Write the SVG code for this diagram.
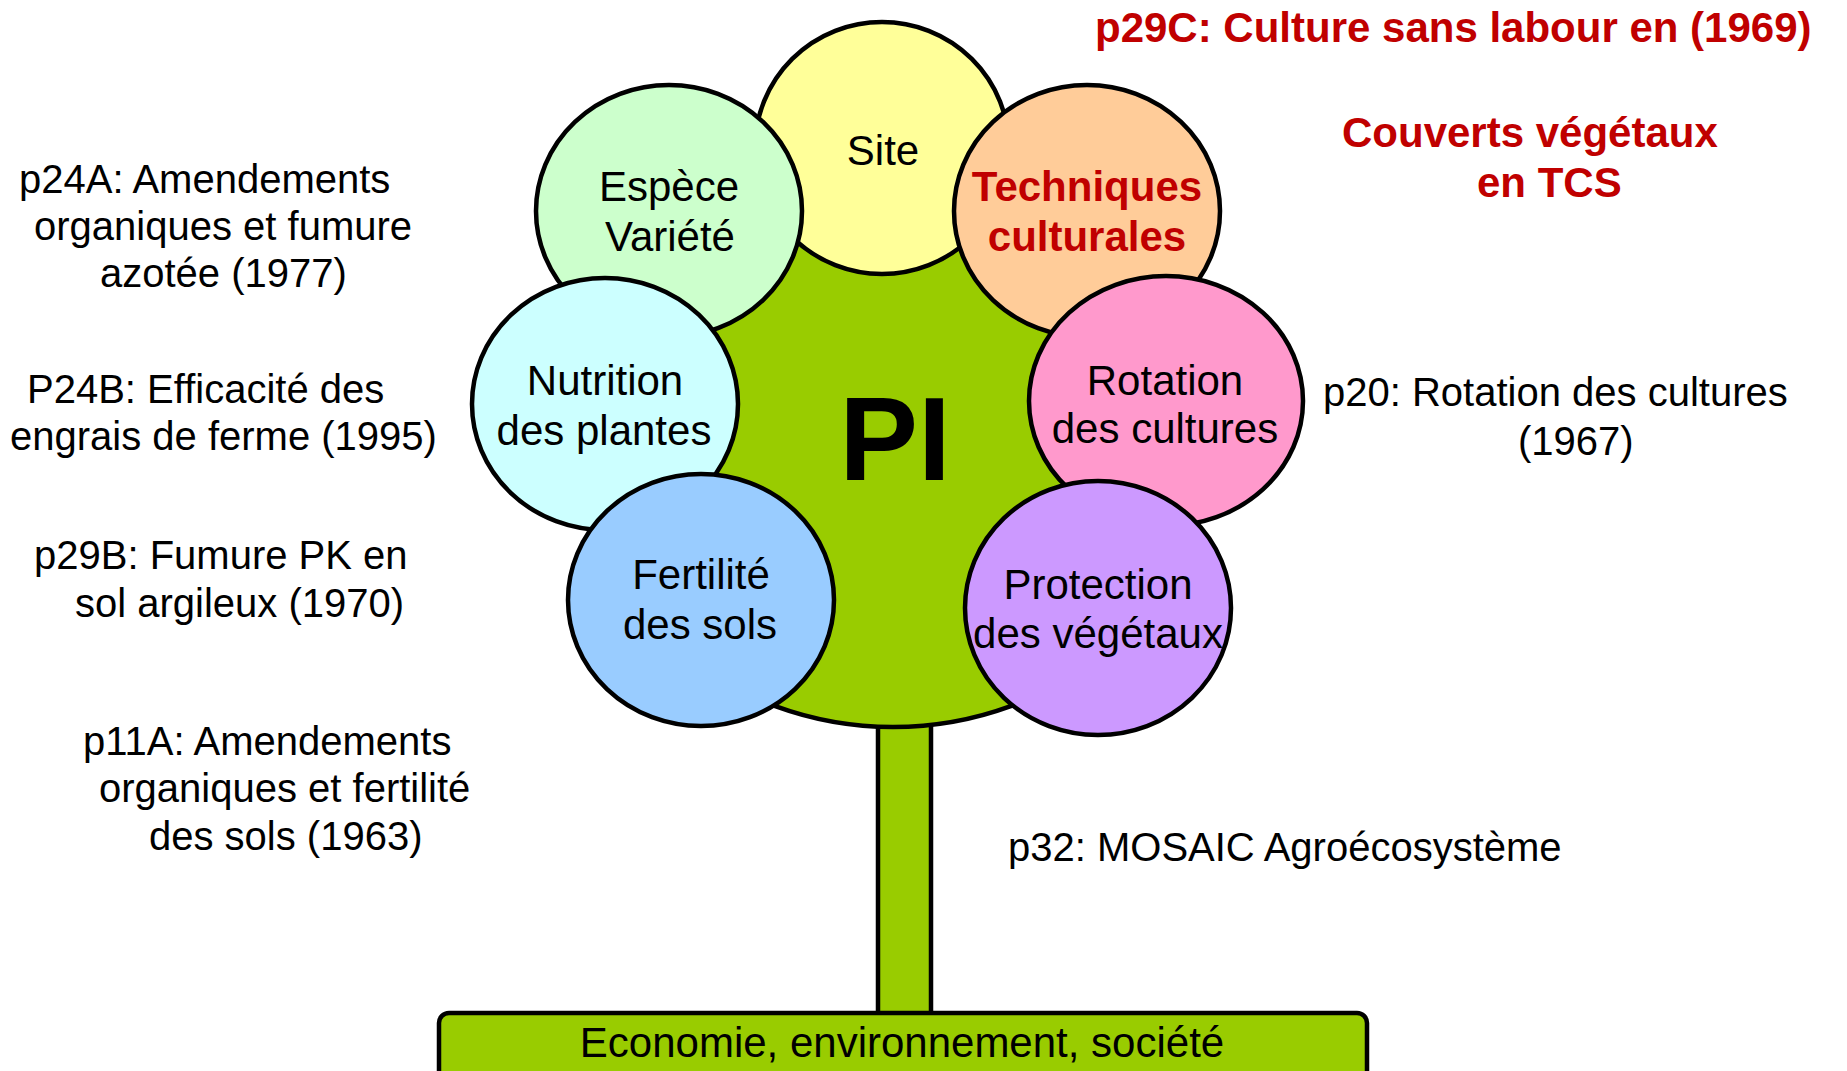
<svg xmlns="http://www.w3.org/2000/svg" width="1847" height="1071" viewBox="0 0 1847 1071">
<style>
.ol{stroke:#000;stroke-width:4.5}
.t{font-family:"Liberation Sans",Arial,sans-serif;font-size:42px;fill:#000}
.c{text-anchor:middle}
.s{font-family:"Liberation Sans",Arial,sans-serif;font-size:40px;fill:#000}
.r{font-family:"Liberation Sans",Arial,sans-serif;font-size:42px;font-weight:bold;fill:#C00000}
</style>
<rect width="1847" height="1071" fill="#fff"/>
<g id="connectors">
<rect id="stem" x="878" y="690" width="53" height="330" fill="#99CC00" class="ol"/>
</g>
<g id="base">
<rect x="439" y="1013" width="928" height="80" rx="10" fill="#99CC00" class="ol"/>
<text class="t c" x="902" y="1057">Economie, environnement, société</text>
</g>
<g id="pi">
<ellipse cx="893" cy="430" rx="320" ry="297" fill="#99CC00" class="ol"/>
</g>
<g id="site">
<ellipse cx="882" cy="148" rx="127" ry="126" fill="#FFFF99" class="ol"/>
<text class="t c" x="883" y="165">Site</text>
</g>
<g id="espece">
<ellipse cx="669" cy="211" rx="133" ry="126" fill="#CCFFCC" class="ol"/>
<text class="t c" x="669" y="201">Espèce</text>
<text class="t c" x="670" y="251">Variété</text>
</g>
<g id="techniques">
<ellipse cx="1087" cy="211" rx="133" ry="126" fill="#FFCC99" class="ol"/>
<text class="r c" x="1087" y="201">Techniques</text>
<text class="r c" x="1087" y="251">culturales</text>
</g>
<g id="nutrition">
<ellipse cx="605" cy="404" rx="133" ry="126" fill="#CCFFFF" class="ol"/>
<text class="t c" x="605" y="395">Nutrition</text>
<text class="t c" x="604" y="445">des plantes</text>
</g>
<g id="rotation">
<ellipse cx="1166" cy="401" rx="137" ry="125" fill="#FF99CC" class="ol"/>
<text class="t c" x="1165" y="395">Rotation</text>
<text class="t c" x="1165" y="443">des cultures</text>
</g>
<g id="fertilite">
<ellipse cx="701" cy="600" rx="133" ry="126" fill="#99CCFF" class="ol"/>
<text class="t c" x="701" y="589">Fertilité</text>
<text class="t c" x="700" y="639">des sols</text>
</g>
<g id="protection">
<ellipse cx="1098" cy="608" rx="133" ry="127" fill="#CC99FF" class="ol"/>
<text class="t c" x="1098" y="599">Protection</text>
<text class="t c" x="1098" y="648">des végétaux</text>
</g>
<g id="pi-label">
<text x="895" y="480" text-anchor="middle" font-family="Liberation Sans, Arial, sans-serif" font-size="118" font-weight="bold" fill="#000">PI</text>
</g>
<g id="p24a">
<text class="s" x="19" y="193">p24A: Amendements</text>
<text class="s" x="34" y="240">organiques et fumure</text>
<text class="s" x="100" y="287">azotée (1977)</text>
</g>
<g id="p24b">
<text class="s" x="27" y="403">P24B: Efficacité des</text>
<text class="s" x="10" y="450">engrais de ferme (1995)</text>
</g>
<g id="p29b">
<text class="s" x="34" y="569">p29B: Fumure PK en</text>
<text class="s" x="75" y="617">sol argileux (1970)</text>
</g>
<g id="p11a">
<text class="s" x="83" y="755">p11A: Amendements</text>
<text class="s" x="99" y="802">organiques et fertilité</text>
<text class="s" x="149" y="850">des sols (1963)</text>
</g>
<g id="p29c">
<text class="r" x="1095" y="42">p29C: Culture sans labour en (1969)</text>
</g>
<g id="couverts">
<text class="r" x="1342" y="147">Couverts végétaux</text>
<text class="r" x="1477" y="197">en TCS</text>
</g>
<g id="p20">
<text class="s" x="1323" y="406">p20: Rotation des cultures</text>
<text class="s" x="1518" y="455">(1967)</text>
</g>
<g id="p32">
<text class="s" x="1008" y="861">p32: MOSAIC Agroécosystème</text>
</g>
</svg>
